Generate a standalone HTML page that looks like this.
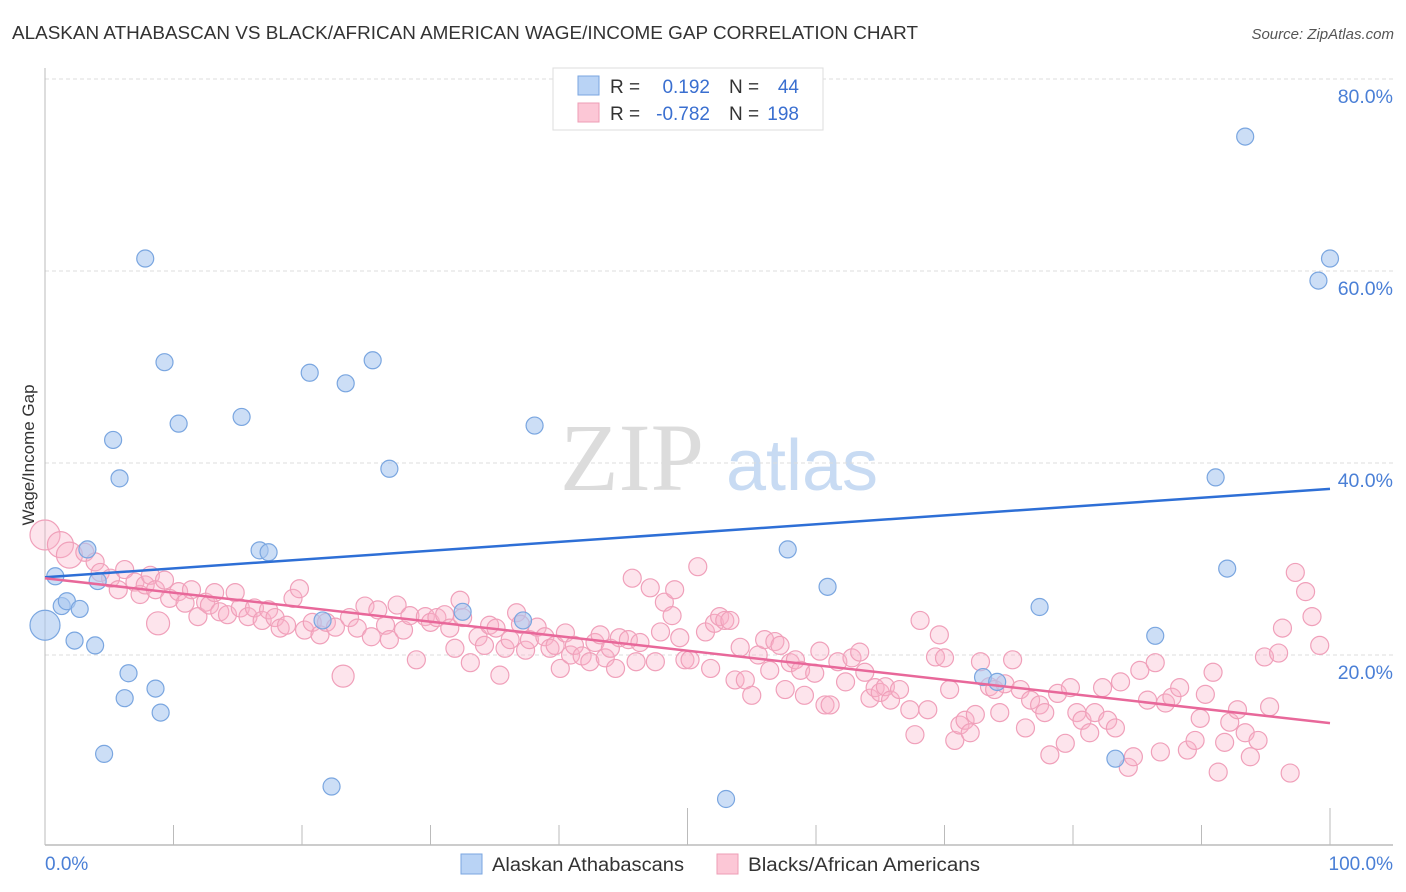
<!DOCTYPE html>
<html><head><meta charset="utf-8"><style>
body{margin:0;background:#fff;font-family:"Liberation Sans",sans-serif}
svg{display:block}
</style></head><body>
<svg id="chart" width="1406" height="892" xmlns="http://www.w3.org/2000/svg" font-family="Liberation Sans, sans-serif">
<text x="12" y="39" font-size="18" fill="#333" textLength="906" lengthAdjust="spacingAndGlyphs">ALASKAN ATHABASCAN VS BLACK/AFRICAN AMERICAN WAGE/INCOME GAP CORRELATION CHART</text>
<text x="1394" y="39" font-size="15" fill="#555" font-style="italic" text-anchor="end">Source: ZipAtlas.com</text>
<g>
<text x="632" y="490" font-size="96" font-family="Liberation Serif, serif" fill="#dcdcdc" text-anchor="middle">ZIP</text>
<text x="802" y="490" font-size="72" fill="#c8dbf3" text-anchor="middle">atlas</text>
</g>
<g id="grid"></g>
<g id="axes"></g>
<text transform="translate(34,455) rotate(-90)" font-size="17" fill="#333" text-anchor="middle">Wage/Income Gap</text>
<g id="pink"></g>
<g id="blue"></g>
<g id="trends"></g>
<g>
<rect x="553" y="68" width="270" height="62" fill="#fff" stroke="#ddd"/>
<rect x="578" y="76" width="21" height="19" fill="#b9d3f5" stroke="#7aa6e0"/>
<rect x="578" y="103" width="21" height="19" fill="#fcc7d6" stroke="#ee9db5"/>
<text x="610" y="93" font-size="19" fill="#333">R = </text><text x="710" y="93" font-size="19" fill="#3a6fd0" text-anchor="end">0.192</text>
<text x="729" y="93" font-size="19" fill="#333">N = </text><text x="799" y="93" font-size="19" fill="#3a6fd0" text-anchor="end">44</text>
<text x="610" y="120" font-size="19" fill="#333">R = </text><text x="710" y="120" font-size="19" fill="#3a6fd0" text-anchor="end">-0.782</text>
<text x="729" y="120" font-size="19" fill="#333">N = </text><text x="799" y="120" font-size="19" fill="#3a6fd0" text-anchor="end">198</text>
</g>
<g>
<rect x="461" y="854" width="21" height="20" fill="#b9d3f5" stroke="#7aa6e0"/>
<text x="492" y="871" font-size="19" fill="#333" textLength="192" lengthAdjust="spacingAndGlyphs">Alaskan Athabascans</text>
<rect x="717" y="854" width="21" height="20" fill="#fcc7d6" stroke="#ee9db5"/>
<text x="748" y="871" font-size="19" fill="#333" textLength="232" lengthAdjust="spacingAndGlyphs">Blacks/African Americans</text>
</g>
</svg>
<script>
const yTicks=[20,40,60,80];
const yTickLabels=["20.0%","40.0%","60.0%","80.0%"];
const xTicks=[0,10,20,30,40,50,60,70,80,90,100];
const blueX=[0,0.8,1.3,1.7,2.7,2.3,3.9,3.3,4.1,4.6,5.3,5.8,6.2,6.5,7.8,8.6,9.0,9.3,10.4,15.3,16.7,17.4,20.6,21.6,22.3,23.4,25.5,26.8,32.5,37.2,38.1,53.0,57.8,60.9,73.0,74.1,77.4,83.3,86.4,91.1,92.0,93.4,99.1,100];
const blueY=[23.1,28.2,25.1,25.6,24.8,21.5,21.0,31.0,27.7,9.7,42.4,38.4,15.5,18.1,61.3,16.5,14.0,50.5,44.1,44.8,30.9,30.7,49.4,23.6,6.3,48.3,50.7,39.4,24.5,23.6,43.9,5.0,31.0,27.1,17.7,17.2,25.0,9.2,22.0,38.5,29.0,74.0,59.0,61.3];
const pinkX=[0,1.2,1.9,3.1,3.9,4.3,5.1,5.7,6.2,7.0,7.4,7.8,8.2,8.6,8.8,9.3,9.7,10.4,10.9,11.4,11.9,12.5,12.8,13.2,13.6,14.2,14.8,15.2,15.8,16.3,16.9,17.4,17.9,18.3,18.8,19.3,19.8,20.2,20.8,21.4,21.9,22.6,23.2,23.7,24.3,24.9,25.4,25.9,26.5,26.8,27.4,27.9,28.4,28.9,29.6,30.0,30.5,31.1,31.5,31.9,32.3,32.5,33.1,33.7,34.2,34.6,35.1,35.4,35.8,36.2,36.7,37.0,37.4,37.7,38.3,38.9,39.3,39.7,40.1,40.5,40.9,41.2,41.8,42.4,42.8,43.2,43.6,44.0,44.4,44.7,45.4,45.7,46.0,46.3,47.1,47.5,47.9,48.2,48.8,49.0,49.4,49.8,50.2,50.8,51.4,51.8,52.1,52.5,52.9,53.3,53.7,54.1,54.5,55.0,55.5,56.0,56.4,56.8,57.2,57.6,58.0,58.4,58.8,59.1,59.9,60.3,60.7,61.1,61.7,62.3,62.8,63.4,63.8,64.2,64.6,65.0,65.4,65.8,66.5,67.3,67.7,68.1,68.7,69.3,69.6,70.0,70.4,70.8,71.2,71.6,72.0,72.4,72.8,73.5,73.9,74.3,74.7,75.3,75.9,76.3,76.7,77.4,77.8,78.2,78.8,79.4,79.8,80.3,80.7,81.3,81.7,82.3,82.7,83.3,83.7,84.3,84.7,85.2,85.8,86.4,86.8,87.2,87.7,88.3,88.9,89.5,89.9,90.3,90.9,91.3,91.8,92.2,92.8,93.4,93.8,94.4,94.9,95.3,96.0,96.3,96.9,97.3,98.1,98.6,99.2];
const pinkY=[32.5,31.5,30.4,30.7,29.7,28.6,28.0,26.8,28.9,27.6,26.3,27.3,28.3,26.8,23.3,27.8,25.9,26.6,25.4,26.8,24.0,25.5,25.2,26.5,24.5,24.2,26.5,24.9,24.0,24.9,23.6,24.7,23.9,22.8,23.1,25.9,26.9,22.6,23.4,22.1,23.4,22.9,17.8,23.9,22.8,25.1,21.9,24.7,23.1,21.6,25.2,22.6,24.1,19.5,24.0,23.4,23.9,24.2,22.8,20.7,25.7,23.9,19.2,21.9,21.0,23.1,22.8,17.9,20.7,21.6,24.4,23.2,20.5,21.6,22.9,21.9,20.7,21.0,18.6,22.3,20.0,21.0,19.9,19.3,21.3,22.1,19.7,20.7,18.6,21.8,21.6,28.0,19.3,21.3,27.0,19.3,22.4,25.5,24.1,26.8,21.8,19.5,19.5,29.2,22.4,18.6,23.3,24.0,23.6,23.6,17.4,20.8,17.4,15.8,20.0,21.6,18.4,21.4,21.0,16.4,19.2,19.5,18.4,15.8,18.1,20.4,14.8,14.8,19.3,17.2,19.7,20.3,18.2,15.5,16.6,16.1,16.7,15.3,16.4,14.3,11.7,23.6,14.3,19.8,22.1,19.7,16.4,11.1,12.7,13.2,11.9,13.8,19.3,16.7,16.4,14.0,17.0,19.5,16.4,12.4,15.3,14.8,14.0,9.6,16.0,10.8,16.6,14.0,13.2,11.9,14.0,16.6,13.2,12.4,17.2,8.3,9.4,18.4,15.3,19.2,9.9,15.0,15.6,16.6,10.1,11.1,13.4,15.9,18.2,7.8,10.9,13.0,14.3,11.9,9.4,11.1,19.8,14.6,20.2,22.8,7.7,28.6,26.6,24.0,21.0];
const blueTrend=[28.1,37.3];
const pinkTrend=[28.0,12.9];
const NS="http://www.w3.org/2000/svg";
const sx=v=>45+v*12.85;
const sy=v=>847-v*9.6;
function mk(tag,attrs,parent){const e=document.createElementNS(NS,tag);for(const k in attrs)e.setAttribute(k,attrs[k]);parent.appendChild(e);return e;}
const grid=document.getElementById('grid');
yTicks.forEach((t,i)=>{
  const l=mk('line',{x1:45,x2:1393,y1:sy(t),y2:sy(t),stroke:'#ddd','stroke-dasharray':'4,3'},grid);
  
  
  const tx=mk('text',{x:1393,y:sy(t)+24,'font-size':19.5,fill:'#4a7fd6','text-anchor':'end'},grid);
  tx.textContent=yTickLabels[i];
  
  
});
const axes=document.getElementById('axes');
mk('line',{x1:45,x2:45,y1:68,y2:845,stroke:'#bbb'},axes);
mk('line',{x1:45,x2:1393,y1:845,y2:845,stroke:'#bbb','stroke-width':1.5},axes);
xTicks.forEach(t=>{
  const major=(t%50===0);
  const l=mk('line',{x1:sx(t),x2:sx(t),y1:major?808:825,y2:845,stroke:'#bbb'},axes);
  
  
});
const x0=mk('text',{x:45,y:870,'font-size':19,fill:'#4a7fd6'},axes);x0.textContent='0.0%';
const x1=mk('text',{x:1393,y:870,'font-size':19,fill:'#4a7fd6','text-anchor':'end'},axes);x1.textContent='100.0%';
const pink=document.getElementById('pink');
pinkX.forEach((v,i)=>{
  let r=9;if(i===0)r=15;else if(i===1||i===2)r=13;else if(i===14)r=11.5;else if(i===42)r=11;
  const c=mk('circle',{cx:sx(v),cy:sy(pinkY[i]),r:r,fill:'rgba(248,178,200,0.35)',stroke:'#f0a0ba','stroke-width':1.2},pink);
  
  
});
const blue=document.getElementById('blue');
blueX.forEach((v,i)=>{
  const r=i===0?15:8.5;
  const c=mk('circle',{cx:sx(v),cy:sy(blueY[i]),r:r,fill:'rgba(170,200,240,0.6)',stroke:'#7aa6e0','stroke-width':1.2},blue);
  
  
});
const tr=document.getElementById('trends');
const bl=mk('line',{x1:sx(0),y1:sy(blueTrend[0]),x2:sx(100),y2:sy(blueTrend[1]),stroke:'#2e6fd6','stroke-width':2.5},tr);


const pl=mk('line',{x1:sx(0),y1:sy(pinkTrend[0]),x2:sx(100),y2:sy(pinkTrend[1]),stroke:'#e8689a','stroke-width':2.5},tr);


</script>
</body></html>
